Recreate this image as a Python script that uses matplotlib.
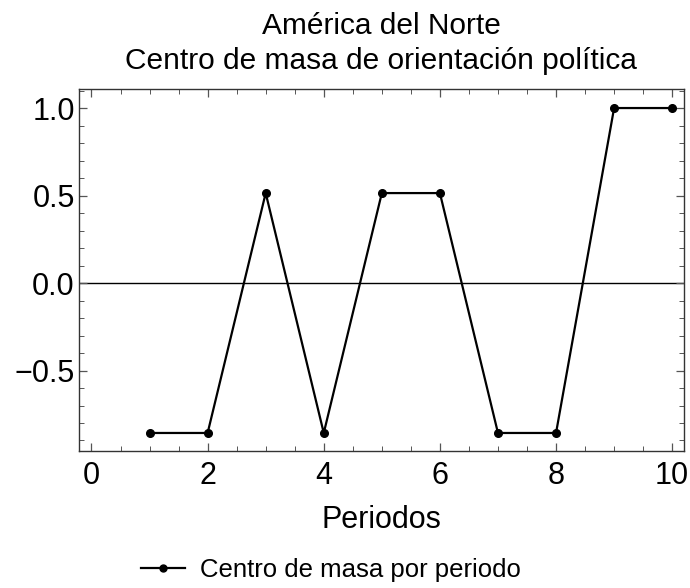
import matplotlib.pyplot as plt
from matplotlib.ticker import MultipleLocator
from matplotlib.lines import Line2D

plt.rcParams['font.family'] = ['Liberation Sans', 'DejaVu Sans']

# centre of mass per period
periods = [1, 2, 3, 4, 5, 6, 7, 8, 9, 10]
centro = [-0.857, -0.857, 0.514, -0.857, 0.514, 0.514, -0.857, -0.857, 1.0, 1.0]

fig = plt.figure(figsize=(6.9, 5.88), dpi=100)
ax = fig.add_axes([0.1145, 0.233, 0.8765, 0.616])

ax.axhline(0, color='black', lw=1.0, zorder=1)
ax.plot(periods, centro, color='black', lw=1.6, marker='o', markersize=5.5, zorder=3)

ax.set_xlim(-0.215, 10.2)
ax.set_ylim(-0.96, 1.11)
ax.xaxis.set_major_locator(MultipleLocator(2))
ax.xaxis.set_minor_locator(MultipleLocator(0.5))
ax.yaxis.set_major_locator(MultipleLocator(0.5))
ax.yaxis.set_minor_locator(MultipleLocator(0.1))
ax.yaxis.set_major_formatter(lambda v, p: f"{v:.1f}".replace('-', '\u2212'))

for s in ax.spines.values():
    s.set_color('#333333')
    s.set_linewidth(1.0)
ax.tick_params(which='both', direction='in', top=True, right=True, color='#555555')
ax.tick_params(which='major', length=6, width=0.9, labelsize=22, pad=3)
ax.tick_params(axis='x', which='major', pad=7)
ax.tick_params(which='minor', length=3.5, width=0.7)

ax.set_xlabel('Periodos', fontsize=22, labelpad=10)
ax.set_title('América del Norte\nCentro de masa de orientación política', fontsize=21.5, pad=14, linespacing=1.33)

handle = Line2D([], [], color='black', lw=1.6, marker='o', markersize=5)
fig.legend([handle], ['Centro de masa por periodo'], loc='center', bbox_to_anchor=(0.48, 0.03),
           frameon=False, fontsize=18.5, handlelength=1.7, handletextpad=0.6)

fig.savefig('out.png', dpi=100)
